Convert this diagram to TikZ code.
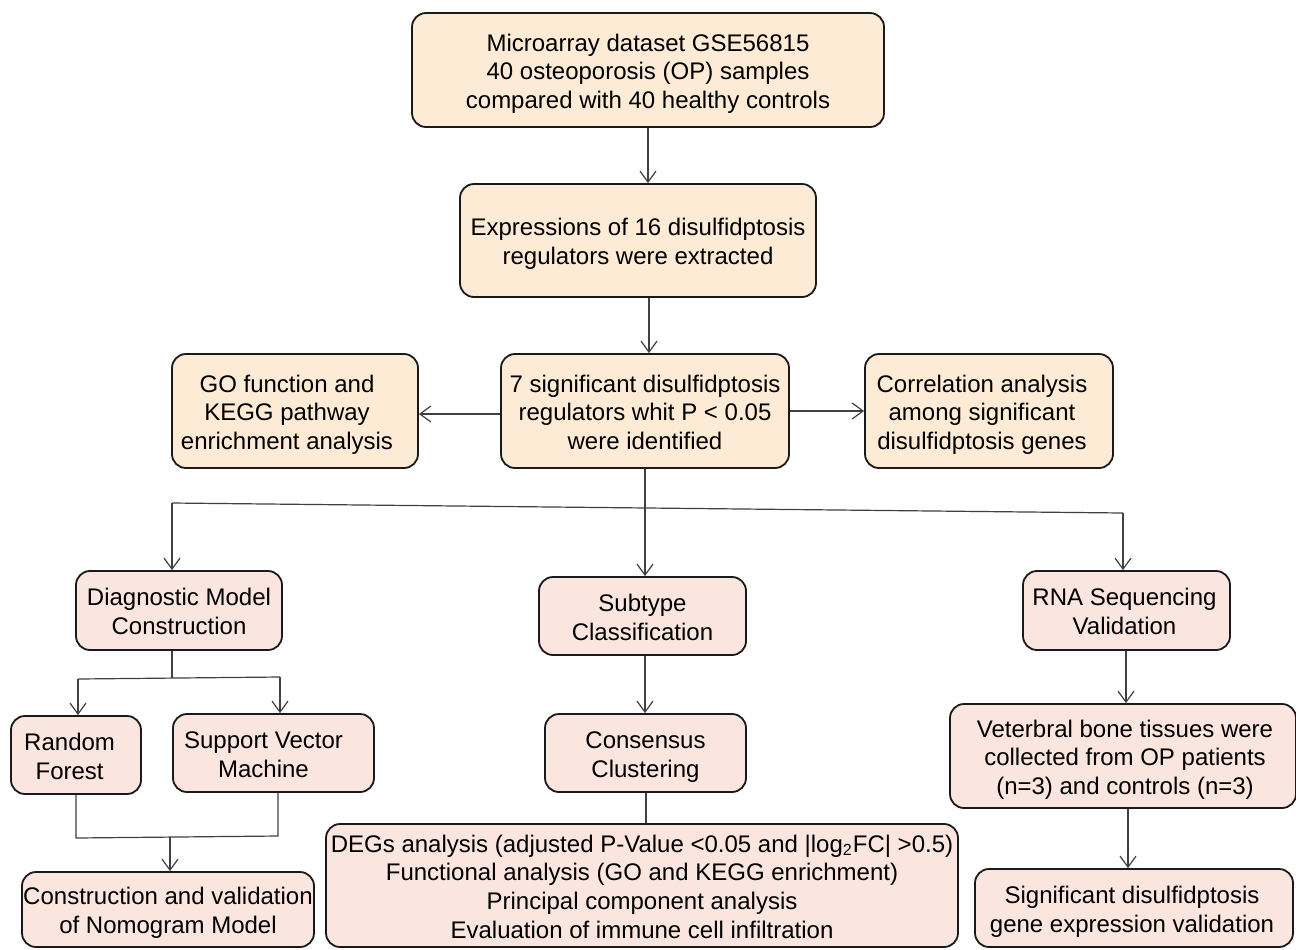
\documentclass[tikz,border=0pt]{standalone}
\usepackage{fontspec}
\setmainfont{Liberation Sans}
\usetikzlibrary{arrows.meta}
\definecolor{peach}{HTML}{FDEBD6}
\definecolor{pinkb}{HTML}{FBE5DF}
\definecolor{edgec}{HTML}{1A1A1A}
\definecolor{linec}{HTML}{404040}
% #1 horizontal offset of the text, #2 the lines
\newcommand\bxtext[2]{\kern#1\raisebox{-2pt}[\height][\depth]{\begin{tabular}{@{}c@{}}#2\end{tabular}}\kern-#1}
\begin{document}
\begin{tikzpicture}[x=0.5pt,y=-0.5pt,
  box/.style={draw=edgec, line width=0.9pt, rounded corners=7pt, inner sep=0pt,
    font=\fontsize{12}{14.3}\selectfont},
  pbox/.style={box, fill=peach},
  rbox/.style={box, fill=pinkb},
  conn/.style={draw=linec, line width=0.6pt},
  arr/.style={conn, -{Straight Barb[length=5.5pt,width=8pt]}}]
\useasboundingbox (0,0) rectangle (1296,949);
\fill[white] (0,0) rectangle (1296,949);

\node[pbox, minimum width=236pt, minimum height=57pt] (top) at (648,70)
  {\bxtext{0pt}{Microarray dataset GSE56815\\40 osteoporosis (OP) samples\\compared with 40 healthy controls}};
\node[pbox, minimum width=178pt, minimum height=56.5pt] (expr) at (638,240.5)
  {\bxtext{0pt}{Expressions of 16 disulfidptosis\\regulators were extracted}};
\node[pbox, minimum width=144pt, minimum height=57pt] (sig) at (645,411)
  {\bxtext{0pt}{7 significant disulfidptosis\\regulators whit P < 0.05\\were identified}};
\node[pbox, minimum width=123pt, minimum height=57pt] (go) at (295,411)
  {\bxtext{-4pt}{GO function and\\KEGG pathway\\enrichment analysis}};
\node[pbox, minimum width=124pt, minimum height=57pt] (corr) at (989,411)
  {\bxtext{-3.5pt}{Correlation analysis\\among significant\\disulfidptosis genes}};

\node[rbox, minimum width=103pt, minimum height=39.5pt] (diag) at (179,610.5)
  {\bxtext{0pt}{Diagnostic Model\\Construction}};
\node[rbox, minimum width=103.5pt, minimum height=39pt] (sub) at (642.5,616)
  {\bxtext{0pt}{Subtype\\Classification}};
\node[rbox, minimum width=103.5pt, minimum height=39.5pt] (rna) at (1126.5,610.5)
  {\bxtext{-1pt}{RNA Sequencing\\Validation}};

\node[rbox, minimum width=65pt, minimum height=39pt] (rf) at (76,755)
  {\bxtext{-3.2pt}{Random\\Forest}};
\node[rbox, minimum width=100.5pt, minimum height=39pt] (svm) at (273.5,753)
  {\bxtext{-5pt}{Support Vector\\Machine}};
\node[rbox, minimum width=100.5pt, minimum height=39pt] (cons) at (645.5,753)
  {\bxtext{0pt}{Consensus\\Clustering}};
\node[rbox, minimum width=173pt, minimum height=52pt] (vert) at (1123,756)
  {\bxtext{1pt}{Veterbral bone tissues were\\collected from OP patients\\(n=3) and controls (n=3)}};

\node[rbox, minimum width=146pt, minimum height=37.5pt] (nomo) at (168,909.5)
  {\bxtext{0pt}{Construction and validation\\of Nomogram Model}};
\node[rbox, minimum width=316pt, minimum height=61.5pt] (degs) at (642,885.5)
  {\bxtext{0pt}{DEGs analysis (adjusted P-Value <0.05 and |log\textsubscript{2}FC| >0.5)\\Functional analysis (GO and KEGG enrichment)\\Principal component analysis\\Evaluation of immune cell infiltration}};
\node[rbox, minimum width=159pt, minimum height=39pt] (sigv) at (1134,908)
  {\bxtext{-1pt}{Significant disulfidptosis\\gene expression validation}};

% vertical main flow
\draw[arr] (top.south -| 648,0) -- (expr.north -| 648,0);
\draw[arr] (expr.south -| 649,0) -- (sig.north -| 649,0);
\draw[arr] (sig.west |- 0,414) -- (go.east |- 0,414);
\draw[arr] (sig.east |- 0,411) -- (corr.west |- 0,411);

% three-way branch
\coordinate (bl) at (172,503);
\coordinate (bm) at (645,508);
\coordinate (br) at (1123,513);
\draw[conn] (sig.south -| bm) -- (bm);
\draw[conn] (bl) -- (br);
\draw[arr] (bl) -- (bl |- diag.north);
\draw[arr] (bm) -- (bm |- sub.north);
\draw[arr] (br) -- (br |- rna.north);

% diagnostic branch
\coordinate (dj) at (172,678);
\coordinate (dl) at (78,679);
\coordinate (dr) at (280,677);
\draw[conn] (diag.south -| dj) -- (dj);
\draw[conn] (dl) -- (dr);
\draw[arr] (dl) -- (dl |- rf.north);
\draw[arr] (dr) -- (dr |- svm.north);

% merge to nomogram
\coordinate (ml) at (76,838);
\coordinate (mr) at (278,836);
\coordinate (mm) at (170,837);
\draw[conn] (rf.south -| ml) -- (ml) -- (mr) -- (svm.south -| mr);
\draw[arr] (mm) -- (mm |- nomo.north);

% subtype column
\draw[arr] (sub.south -| 645,0) -- (cons.north -| 645,0);
\draw[conn] (cons.south -| 646,0) -- (degs.north -| 646,0);

% RNA column
\draw[arr] (rna.south -| 1126,0) -- (vert.north -| 1126,0);
\draw[arr] (vert.south -| 1128,0) -- (sigv.north -| 1128,0);
\end{tikzpicture}
\end{document}
